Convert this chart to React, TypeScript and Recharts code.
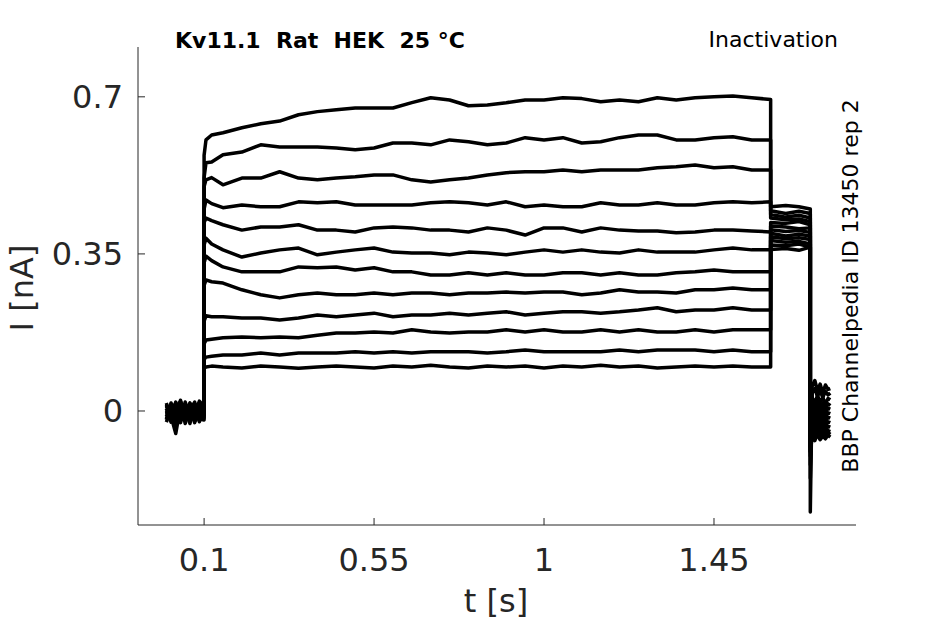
import React from "react";
import { LineChart, Line, XAxis, YAxis } from "recharts";

// sample times [s]: holding, step (0.1–1.6), tail (1.6–1.7), final
const time = [
  0, 0.0125, 0.025, 0.0375, 0.05, 0.0625, 0.075, 0.0875, 0.1,
  0.1, 0.105, 0.12, 0.15, 0.2, 0.25, 0.3, 0.35, 0.4, 0.45, 0.5, 0.55, 0.6,
  0.65, 0.7, 0.75, 0.8, 0.85, 0.9, 0.95, 1.0, 1.05, 1.1, 1.15, 1.2, 1.25,
  1.3, 1.35, 1.4, 1.45, 1.5, 1.55, 1.6,
  1.6, 1.64, 1.675, 1.705,
  1.705, 1.71, 1.717, 1.724, 1.731, 1.738, 1.745, 1.752, 1.758,
];

// current [nA] per sweep, same order as time
const sweep1 = [
  0.012, -0.01, 0.018, -0.006, 0.015, -0.012, 0.01, -0.004, 0.005,
  0.57, 0.604, 0.615, 0.62, 0.631, 0.64, 0.646, 0.66, 0.667, 0.671, 0.675, 0.675, 0.675,
  0.687, 0.698, 0.693, 0.68, 0.682, 0.687, 0.693, 0.693, 0.698, 0.696, 0.689, 0.693, 0.689,
  0.698, 0.693, 0.698, 0.7, 0.702, 0.698, 0.694,
  0.455, 0.458, 0.455, 0.45,
  -0.225, 0.055, 0.068, 0.045, 0.06, 0.04, 0.058, 0.048, 0.05,
];
const sweep2 = [
  -0.02, 0.008, -0.024, 0.012, -0.016, 0.006, -0.022, 0.014, 0.0,
  0.52, 0.553, 0.555, 0.571, 0.577, 0.593, 0.588, 0.588, 0.588, 0.586, 0.582, 0.586, 0.597,
  0.597, 0.593, 0.604, 0.6, 0.593, 0.597, 0.609, 0.604, 0.609, 0.597, 0.6, 0.609, 0.615,
  0.615, 0.604, 0.604, 0.609, 0.611, 0.604, 0.604,
  0.446, 0.44, 0.445, 0.44,
  -0.15, 0.04, 0.05, 0.032, 0.046, 0.03, 0.044, 0.036, 0.04,
];
const sweep3 = [
  0.018, -0.015, 0.008, 0.02, -0.01, 0.016, -0.006, 0.022, 0.01,
  0.5, 0.515, 0.52, 0.504, 0.519, 0.519, 0.533, 0.519, 0.515, 0.519, 0.522, 0.526, 0.526,
  0.515, 0.51, 0.515, 0.519, 0.526, 0.531, 0.533, 0.533, 0.537, 0.533, 0.537, 0.537, 0.537,
  0.542, 0.544, 0.548, 0.542, 0.544, 0.537, 0.537,
  0.438, 0.432, 0.436, 0.43,
  -0.12, 0.03, 0.018, 0.034, 0.02, 0.03, 0.016, 0.028, 0.025,
];
const sweep4 = [
  -0.012, 0.015, -0.026, -0.004, 0.012, -0.02, 0.008, -0.016, -0.008,
  0.45, 0.47, 0.462, 0.453, 0.459, 0.455, 0.455, 0.466, 0.464, 0.466, 0.459, 0.459, 0.459,
  0.459, 0.464, 0.466, 0.464, 0.459, 0.466, 0.455, 0.459, 0.455, 0.455, 0.464, 0.459, 0.459,
  0.464, 0.459, 0.459, 0.464, 0.466, 0.464, 0.466,
  0.43, 0.426, 0.428, 0.422,
  -0.1, 0.02, 0.008, 0.022, 0.01, 0.018, 0.006, 0.016, 0.012,
];
const sweep5 = [
  0.005, -0.025, 0.012, -0.018, 0.02, -0.01, 0.016, -0.022, 0.012,
  0.42, 0.43, 0.424, 0.415, 0.403, 0.41, 0.41, 0.415, 0.403, 0.403, 0.399, 0.408, 0.41,
  0.408, 0.403, 0.403, 0.399, 0.408, 0.403, 0.392, 0.408, 0.408, 0.399, 0.408, 0.403, 0.401,
  0.401, 0.397, 0.399, 0.403, 0.403, 0.401, 0.399,
  0.42, 0.418, 0.422, 0.415,
  -0.09, 0.01, -0.002, 0.012, 0.0, 0.008, -0.004, 0.006, 0.004,
];
const sweep6 = [
  -0.025, 0.002, -0.03, -0.008, -0.02, 0.006, -0.026, 0.0, -0.015,
  0.37, 0.385, 0.372, 0.359, 0.343, 0.352, 0.359, 0.363, 0.348, 0.354, 0.359, 0.363, 0.354,
  0.352, 0.352, 0.348, 0.354, 0.352, 0.348, 0.354, 0.359, 0.354, 0.359, 0.354, 0.352, 0.359,
  0.354, 0.354, 0.354, 0.359, 0.363, 0.359, 0.359,
  0.412, 0.41, 0.406, 0.408,
  -0.08, 0.0, -0.012, 0.004, -0.01, -0.002, -0.014, -0.004, -0.006,
];
const sweep7 = [
  0.015, -0.012, -0.05, 0.01, -0.006, 0.018, -0.014, 0.012, 0.004,
  0.33, 0.345, 0.335, 0.321, 0.31, 0.31, 0.31, 0.321, 0.319, 0.321, 0.314, 0.319, 0.31,
  0.31, 0.303, 0.303, 0.308, 0.303, 0.308, 0.303, 0.303, 0.308, 0.308, 0.303, 0.308, 0.303,
  0.303, 0.308, 0.31, 0.314, 0.31, 0.31, 0.31,
  0.404, 0.4, 0.402, 0.398,
  -0.07, -0.01, -0.022, -0.006, -0.02, -0.012, -0.024, -0.014, -0.016,
];
const sweep8 = [
  -0.005, 0.012, -0.02, 0.02, -0.028, 0.008, -0.012, 0.016, -0.01,
  0.28, 0.292, 0.288, 0.285, 0.27, 0.259, 0.252, 0.259, 0.263, 0.259, 0.259, 0.263, 0.259,
  0.263, 0.263, 0.259, 0.263, 0.263, 0.265, 0.263, 0.265, 0.265, 0.259, 0.263, 0.27, 0.265,
  0.265, 0.263, 0.27, 0.27, 0.274, 0.27, 0.27,
  0.396, 0.39, 0.394, 0.39,
  -0.07, -0.02, -0.032, -0.016, -0.03, -0.022, -0.034, -0.024, -0.026,
];
const sweep9 = [
  0.0, -0.02, 0.01, -0.026, 0.006, -0.016, 0.014, -0.024, 0.008,
  0.2, 0.212, 0.21, 0.21, 0.207, 0.207, 0.203, 0.207, 0.214, 0.21, 0.214, 0.218, 0.21,
  0.214, 0.214, 0.218, 0.214, 0.218, 0.221, 0.214, 0.218, 0.221, 0.221, 0.218, 0.221, 0.225,
  0.23, 0.221, 0.225, 0.225, 0.23, 0.225, 0.225,
  0.388, 0.384, 0.386, 0.382,
  -0.075, -0.03, -0.042, -0.026, -0.04, -0.032, -0.044, -0.034, -0.036,
];
const sweep10 = [
  -0.018, 0.018, -0.005, 0.022, -0.014, 0.012, -0.02, 0.006, -0.004,
  0.15, 0.158, 0.16, 0.163, 0.165, 0.163, 0.165, 0.163, 0.169, 0.174, 0.174, 0.176, 0.174,
  0.181, 0.176, 0.174, 0.176, 0.176, 0.181, 0.176, 0.181, 0.176, 0.176, 0.181, 0.176, 0.181,
  0.176, 0.176, 0.181, 0.176, 0.181, 0.181, 0.181,
  0.38, 0.376, 0.378, 0.372,
  -0.08, -0.04, -0.05, -0.036, -0.052, -0.042, -0.054, -0.044, -0.046,
];
const sweep11 = [
  0.01, -0.008, 0.02, -0.018, 0.004, -0.028, 0.016, -0.006, 0.018,
  0.115, 0.12, 0.122, 0.125, 0.125, 0.129, 0.125, 0.129, 0.129, 0.129, 0.132, 0.129, 0.132,
  0.129, 0.132, 0.132, 0.132, 0.129, 0.132, 0.136, 0.132, 0.132, 0.132, 0.132, 0.136, 0.132,
  0.136, 0.136, 0.136, 0.132, 0.136, 0.132, 0.132,
  0.37, 0.368, 0.372, 0.365,
  -0.085, -0.05, -0.06, -0.046, -0.062, -0.05, -0.058, -0.048, -0.052,
];
const sweep12 = [
  -0.008, 0.005, -0.015, 0.024, -0.022, 0.002, 0.02, -0.018, -0.02,
  0.095, 0.098, 0.1, 0.098, 0.096, 0.1, 0.098, 0.095, 0.098, 0.1, 0.098, 0.096, 0.1,
  0.098, 0.102, 0.098, 0.096, 0.1, 0.098, 0.1, 0.096, 0.1, 0.098, 0.102, 0.098, 0.1,
  0.096, 0.098, 0.1, 0.098, 0.1, 0.098, 0.098,
  0.36, 0.362, 0.358, 0.365,
  -0.09, -0.058, -0.066, -0.052, -0.064, -0.056, -0.062, -0.054, -0.058,
];

const sweeps = [
  sweep1, sweep2, sweep3, sweep4, sweep5, sweep6,
  sweep7, sweep8, sweep9, sweep10, sweep11, sweep12,
];

const xTicks = [0.1, 0.55, 1, 1.45];
const yTicks = [0, 0.35, 0.7];

const data = time.map((t, i) => {
  const row: Record<string, number> = { t };
  sweeps.forEach((s, k) => {
    row["s" + k] = s[i];
  });
  return row;
});

const axisColor = "#262626";

export default function App() {
  return (
    <div
      style={{
        position: "absolute",
        left: 0,
        top: 0,
        width: 945,
        height: 624,
        background: "#fff",
        fontFamily: "'DejaVu Sans', sans-serif",
      }}
    >
      <LineChart
        width={945}
        height={624}
        data={data}
        margin={{ top: 47, right: 89, left: 0, bottom: 0 }}
      >
        <XAxis
          dataKey="t"
          type="number"
          domain={[-0.075, 1.826]}
          ticks={xTicks}
          allowDataOverflow
          height={99}
          stroke={axisColor}
          tickSize={-7}
          tickMargin={30}
          tick={{ fontSize: 32, fill: axisColor }}
        />
        <YAxis
          type="number"
          domain={[-0.254, 0.811]}
          ticks={yTicks}
          allowDataOverflow
          width={138}
          stroke={axisColor}
          tickSize={-7}
          tickMargin={22}
          tick={{ fontSize: 32, fill: axisColor }}
        />
        {sweeps.map((_, k) => (
          <Line
            key={k}
            dataKey={"s" + k}
            type="linear"
            stroke="#000"
            strokeWidth={3.5}
            strokeLinejoin="round"
            dot={false}
            isAnimationActive={false}
          />
        ))}
      </LineChart>
      <svg
        width={945}
        height={624}
        style={{ position: "absolute", left: 0, top: 0, pointerEvents: "none" }}
      >
        <text x={175} y={48} fontSize={22} fontWeight="bold" fill="#000" style={{ whiteSpace: "pre" }}>
          {"Kv11.1  Rat  HEK  25 °C"}
        </text>
        <text x={838} y={47} fontSize={22} textAnchor="end" fill="#000">
          Inactivation
        </text>
        <text
          transform="translate(858,286) rotate(-90)"
          fontSize={22}
          textAnchor="middle"
          fill="#000"
        >
          BBP Channelpedia ID 13450 rep 2
        </text>
        <text
          transform="translate(33,288) rotate(-90)"
          fontSize={32}
          textAnchor="middle"
          fill={axisColor}
        >
          I [nA]
        </text>
        <text x={496} y={612} fontSize={32} textAnchor="middle" fill={axisColor}>
          t [s]
        </text>
      </svg>
    </div>
  );
}
